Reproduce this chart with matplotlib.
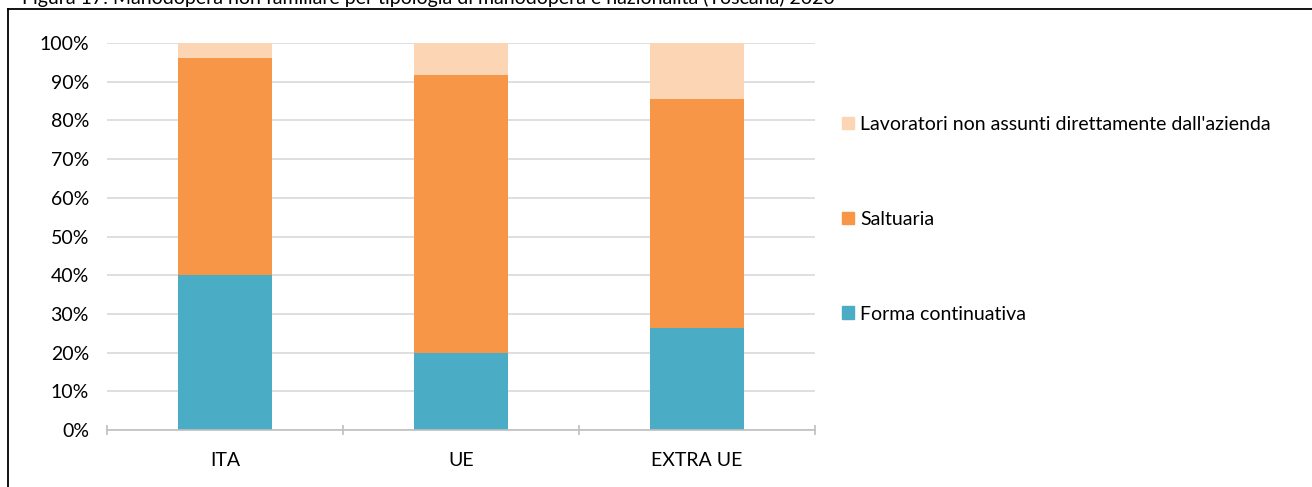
import numpy as np
import matplotlib.pyplot as plt
from matplotlib.lines import Line2D
from matplotlib.patches import Patch

plt.rcParams['font.family'] = ['Lato', 'DejaVu Sans']

categories = ['ITA', 'UE', 'EXTRA UE']
continuativa = [40.0, 19.9, 26.3]
saltuaria = [56.1, 71.8, 59.2]
non_assunti = [3.9, 8.3, 14.5]
series_names = ['Forma continuativa', 'Saltuaria',
                "Lavoratori non assunti direttamente dall'azienda"]
colors = ['#4BACC6', '#F79646', '#FCD5B5']

W, H = 1312, 487
fs = 14
fig = plt.figure(figsize=(W / 100, H / 100), dpi=100)
ax = fig.add_axes([107 / W, 1 - 430 / H, (815 - 107) / W, (430 - 43) / H])

x = np.arange(len(categories))
bottom = np.zeros(len(categories))
for vals, name, c in zip([continuativa, saltuaria, non_assunti], series_names, colors):
    ax.bar(x, vals, width=0.4, bottom=bottom, color=c, label=name, zorder=3)
    bottom += np.array(vals)

ax.set_xlim(-0.5, len(categories) - 0.5)
ax.set_ylim(0, 100)
ax.set_yticks(np.arange(0, 101, 10))
ax.set_yticklabels([f'{v}%' for v in range(0, 101, 10)], fontsize=fs)
ax.yaxis.grid(True, color='#D9D9D9', linewidth=1.2, zorder=0)
ax.tick_params(axis='y', length=0, pad=13)

ax.set_xticks(x)
ax.set_xticklabels(categories, fontsize=fs)
ax.tick_params(axis='x', length=0, pad=16)
ax.set_xticks(np.arange(-0.5, len(categories), 1), minor=True)
ax.tick_params(axis='x', which='minor', length=7, width=1.2, color='#BFBFBF',
               direction='inout')

for s in ['top', 'right', 'left']:
    ax.spines[s].set_visible(False)
ax.spines['bottom'].set_color('#BFBFBF')
ax.spines['bottom'].set_linewidth(1.2)
ax.spines['bottom'].set_zorder(4)

handles = [Patch(color=c, label=n) for c, n in zip(colors, series_names)][::-1]
fig.legend(handles=handles, loc='upper left', bbox_to_anchor=(842 / W, 1 - 116 / H),
           frameon=False, fontsize=fs, labelspacing=4.0, handlelength=0.62,
           handleheight=0.62, handletextpad=0.3, borderaxespad=0, borderpad=0)

fig.text(22 / W, 1 - 4 / H,
         'Figura 17: Manodopera non familiare per tipologia di manodopera e nazionalità (Toscana) 2020',
         fontsize=fs, va='baseline', ha='left')

fig.add_artist(Line2D([7.5 / W, 1], [1 - 8.5 / H, 1 - 8.5 / H], color='black', linewidth=1.3,
                      transform=fig.transFigure))
fig.add_artist(Line2D([7.5 / W, 7.5 / W], [0, 1 - 8.5 / H], color='black', linewidth=1.3,
                      transform=fig.transFigure))

fig.savefig('out.png', dpi=100)
